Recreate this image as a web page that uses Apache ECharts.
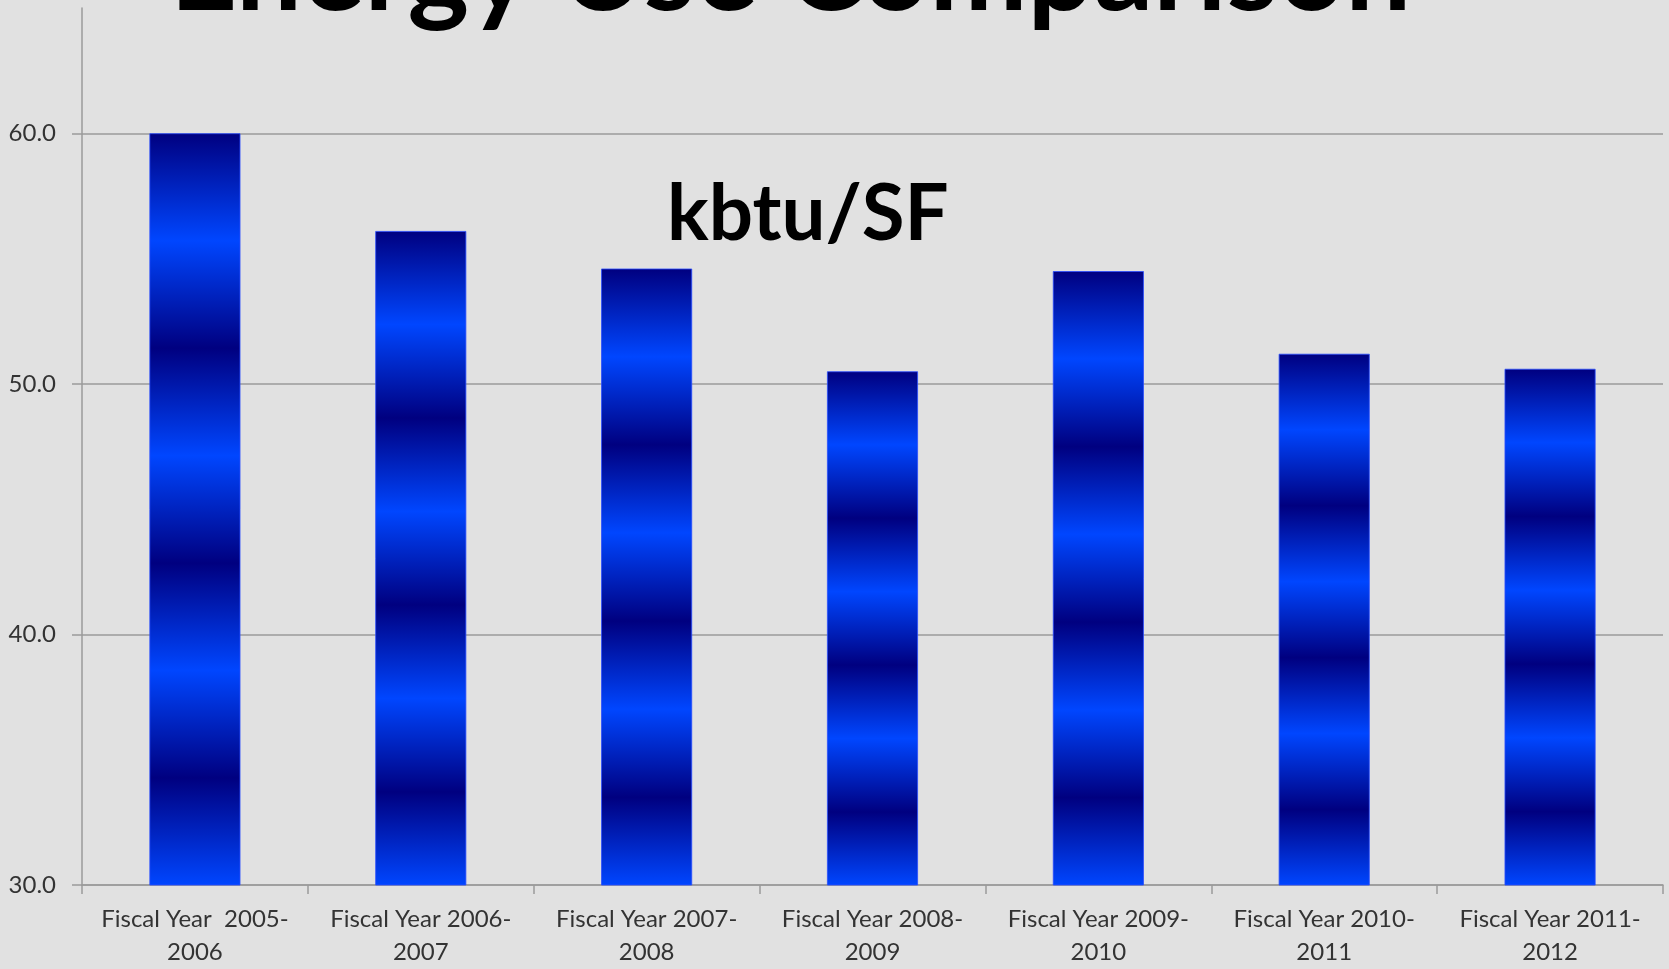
<!DOCTYPE html>
<html>
<head>
<meta charset="utf-8">
<script src="https://cdn.jsdelivr.net/npm/echarts@6/dist/echarts.min.js"></script>
<style>
html,body{margin:0;padding:0;background:#e1e1e1;overflow:hidden;}
#chart{width:1669px;height:969px;}
</style>
</head>
<body>
<div id="chart"></div>
<script>
var categories = ['Fiscal Year  2005-2006','Fiscal Year 2006-2007','Fiscal Year 2007-2008','Fiscal Year 2008-2009','Fiscal Year 2009-2010','Fiscal Year 2010-2011','Fiscal Year 2011-2012'];
var kbtuPerSF = [60.0, 56.1, 54.6, 50.5, 54.5, 51.2, 50.6];
var yTicks = [30, 40, 50, 60];
var titleText = 'Energy Use Comparison';
var subtitleText = 'kbtu/SF';

var dark = '#000080', bright = '#0046ff';
var stops = [];
for (var k = 0; k <= 7; k++) stops.push({offset: k / 7, color: k % 2 === 0 ? dark : bright});

var chart = echarts.init(document.getElementById('chart'));
chart.setOption({
  backgroundColor: '#e1e1e1',
  animation: false,
  graphic: [
    {type:'text', left: 170, top: -86, style:{text: titleText, font:'bold 117px Lato', fill:'#000'}},
    {type:'text', left: 667, top: 176, style:{text: subtitleText, font:'bold 78px Lato', fill:'#000'}}
  ],
  grid: {left: 82, right: 6, top: 8, bottom: 80, containLabel: false},
  xAxis: {
    type: 'category',
    data: categories,
    axisLine: {lineStyle: {color: '#9a9a9a', width: 1.5}},
    axisTick: {show: true, length: 9, alignWithLabel: false, lineStyle: {color: '#9a9a9a', width: 1.5}},
    axisLabel: {
      interval: 0, margin: 18, color: '#333', fontFamily: 'Lato', fontSize: 24, lineHeight: 33,
      formatter: function (v) { return v.replace('-', '-\n'); }
    },
    splitLine: {show: false}
  },
  yAxis: {
    type: 'value', min: 30, max: 65, interval: 10,
    axisLine: {show: true, lineStyle: {color: '#9a9a9a', width: 1.5}},
    axisTick: {show: true, length: 10, customValues: yTicks, lineStyle: {color: '#9a9a9a', width: 1.5}},
    axisLabel: {margin: 26, color: '#333', fontFamily: 'Lato', fontSize: 24, customValues: yTicks,
      formatter: function (v) { return Number(v).toFixed(1); }},
    splitLine: {show: true, lineStyle: {color: ['#9a9a9a','#9a9a9a','#9a9a9a','#9a9a9a','rgba(0,0,0,0)'], width: 1.5}}
  },
  series: [{
    type: 'bar',
    data: kbtuPerSF,
    barWidth: 91,
    itemStyle: {
      color: {type: 'linear', x: 0, y: 0, x2: 0, y2: 1, colorStops: stops},
      borderColor: '#2a4cff', borderWidth: 0.8
    }
  }]
});
</script>
</body>
</html>
